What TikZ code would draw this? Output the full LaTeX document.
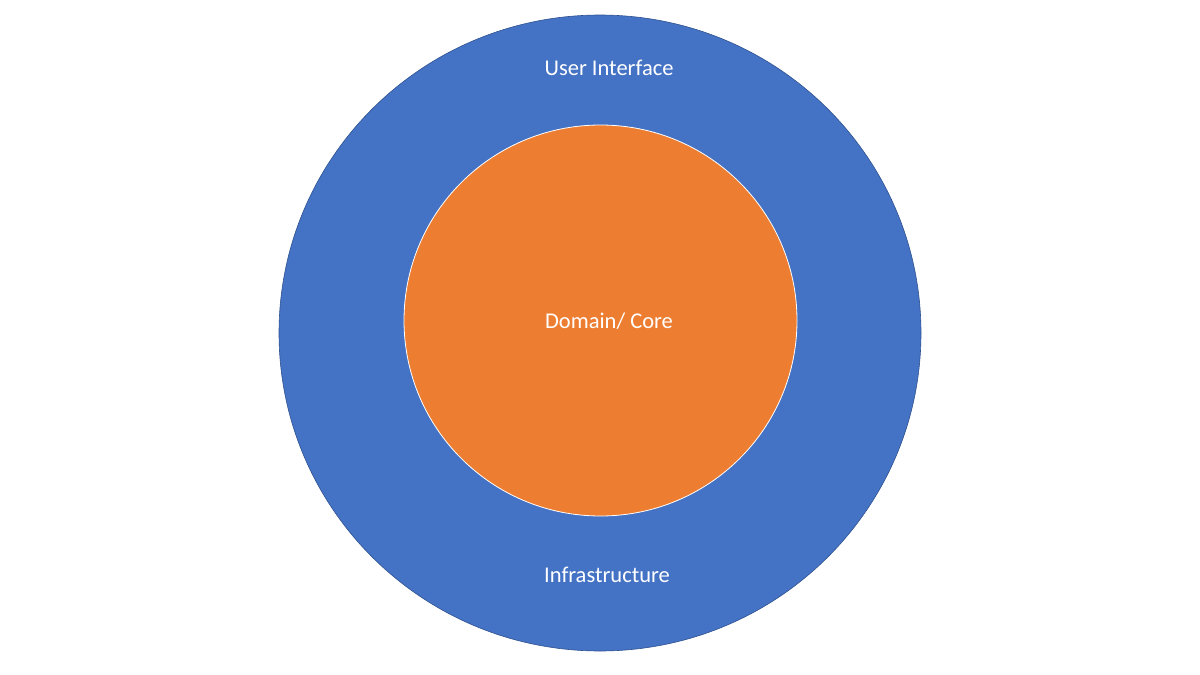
\documentclass[tikz,border=0pt]{standalone}
\usepackage{fontspec}
\setmainfont{Carlito}
\definecolor{ublue}{HTML}{4472C4}
\definecolor{uedge}{HTML}{2F528F}
\definecolor{uorange}{HTML}{ED7D31}
\begin{document}
\begin{tikzpicture}[x=1pt,y=-1pt,lbl/.style={text=white,font=\fontsize{22.5}{26}\selectfont}]
\useasboundingbox (0,0) rectangle (1200,675);
\fill[ublue,draw=uedge,line width=0.6pt] (600,333) ellipse [x radius=321,y radius=318];
\fill[uorange,draw=white,line width=0.8pt] (600.5,320.5) ellipse [x radius=196.5,y radius=195.5];
\node[lbl] (ui) at (609,68) {User Interface};
\node[lbl] (core) at (609,321) {Domain/ Core};
\node[lbl] (infra) at (607,575) {Infrastructure};
\end{tikzpicture}
\end{document}
